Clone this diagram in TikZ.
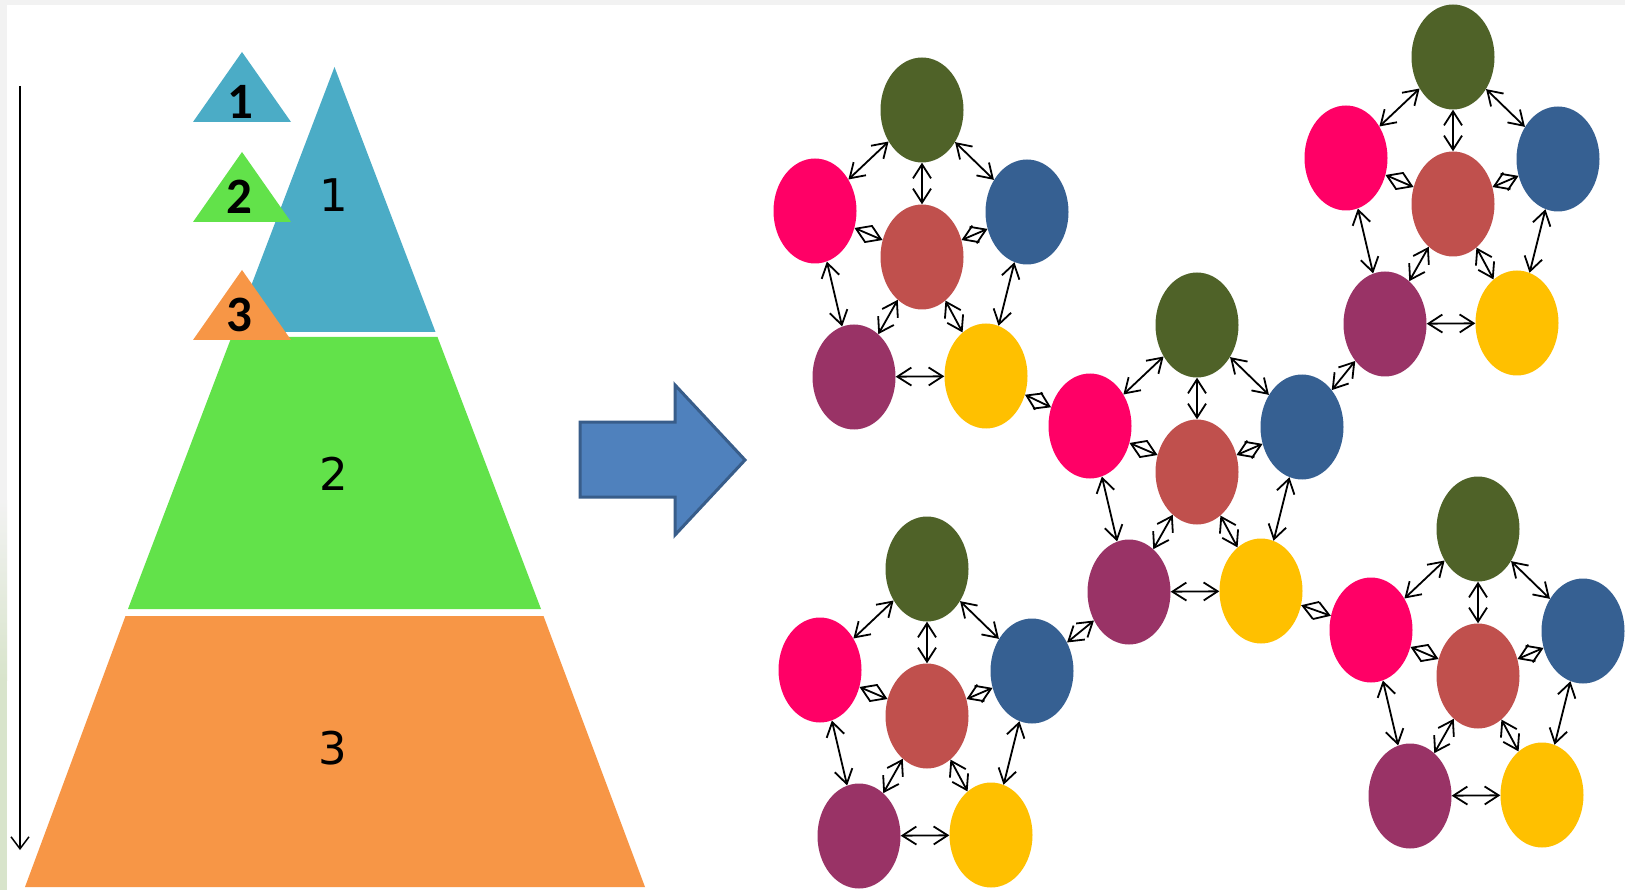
\documentclass[tikz,border=0pt]{standalone}
\usepackage{fontspec}
\newfontfamily\labfont{DejaVu Sans}
\newfontfamily\boldfont{Carlito}
\usetikzlibrary{arrows.meta,shapes.geometric}

\definecolor{pyrblue}{HTML}{4BACC6}
\definecolor{pyrgreen}{HTML}{62E24A}
\definecolor{pyrorange}{HTML}{F79646}
\definecolor{cgreen}{HTML}{4F6228}
\definecolor{cpink}{HTML}{FF0066}
\definecolor{cblue}{HTML}{366092}
\definecolor{cred}{HTML}{C0504D}
\definecolor{cpurple}{HTML}{993366}
\definecolor{cyellow}{HTML}{FFC000}
\definecolor{arrfill}{HTML}{4F81BD}
\definecolor{arrdraw}{HTML}{385D8A}
\definecolor{edgegray}{HTML}{F2F2F2}
\definecolor{edgegreen}{HTML}{D8E4CB}

\newcommand\mkcluster[3]{%
  \begin{scope}[shift={(#2,#3)}]
    \node[ball=cred]    (#1r) at (0,0) {};
    \node[ball=cgreen]  (#1g) at (0,-147) {};
    \node[ball=cpink]   (#1p) at (-107,-46) {};
    \node[ball=cblue]   (#1b) at (105,-45) {};
    \node[ball=cpurple] (#1u) at (-68,120) {};
    \node[ball=cyellow] (#1y) at (64,119) {};
  \end{scope}
  \draw[link] (#1g) -- (#1p);
  \draw[link] (#1g) -- (#1b);
  \draw[link] (#1g) -- (#1r);
  \draw[link] (#1p) -- (#1r);
  \draw[link] (#1b) -- (#1r);
  \draw[link] (#1p) -- (#1u);
  \draw[link] (#1b) -- (#1y);
  \draw[link] (#1r) -- (#1u);
  \draw[link] (#1r) -- (#1y);
  \draw[link] (#1u) -- (#1y);
}

\begin{document}
\begin{tikzpicture}[x=1pt,y=-1pt,
  ball/.style={ellipse, minimum width=83pt, minimum height=105pt, inner sep=0pt, fill=#1, draw=none},
  link/.style={draw=black, line width=1.8pt,
    {Straight Barb[length=14pt,width=18pt]}-{Straight Barb[length=14pt,width=18pt]}},
  biglabel/.style={font=\labfont\fontsize{45}{50}\selectfont, text=black, inner sep=0pt},
  smalllabel/.style={font=\boldfont\bfseries\fontsize{51}{56}\selectfont, text=black, inner sep=0pt},
]
\useasboundingbox (0,0) rectangle (1625,890);
\fill[white] (0,0) rectangle (1625,890);
% margins
\fill[edgegray] (0,0) rectangle (1625,5);
\fill[edgegray] (0,0) rectangle (7,890);
\shade[top color=edgegray, bottom color=edgegreen] (0,500) rectangle (7,680);
\fill[edgegreen] (0,680) rectangle (7,890);

% pyramid
\fill[pyrblue] (334.5,67) -- (435.5,332) -- (233.5,332) -- cycle;
\fill[pyrgreen] (231.5,337) -- (437.5,337) -- (541,609) -- (128,609) -- cycle;
\fill[pyrorange] (125.5,616) -- (543.5,616) -- (645,887) -- (25,887) -- cycle;
\node[biglabel] (L1) at (334,195) {1};
\node[biglabel] (L2) at (334,474) {2};
\node[biglabel] (L3) at (333,748) {3};

% small triangles
\fill[pyrblue]   (242,52)  -- (291,122) -- (193,122) -- cycle;
\fill[pyrgreen]  (242,152) -- (291,222) -- (193,222) -- cycle;
\fill[pyrorange] (242,270) -- (291,340) -- (193,340) -- cycle;
\node[smalllabel] (S1) at (240,102) {1};
\node[smalllabel] (S2) at (239,197) {2};
\node[smalllabel] (S3) at (239,315) {3};

% vertical arrow
\coordinate (vtop) at (20,86);
\coordinate (vbot) at (20,850);
\draw[line width=1.5pt, -{Straight Barb[length=12pt,width=18pt]}] (vtop) -- (vbot);

% big arrow
\filldraw[fill=arrfill, draw=arrdraw, line width=3pt, line join=miter]
  (580,422) -- (675,422) -- (675,385) -- (745,460) -- (675,535) -- (675,497) -- (580,497) -- cycle;

% clusters
\mkcluster{A}{922}{257}
\mkcluster{B}{1197}{472}
\mkcluster{C}{1453}{204}
\mkcluster{D}{927}{716}
\mkcluster{E}{1478}{676}

\draw[link] (Ay) -- (Bp);
\draw[link] (Bb) -- (Cu);
\draw[link] (Bu) -- (Db);
\draw[link] (By) -- (Ep);
\end{tikzpicture}
\end{document}
